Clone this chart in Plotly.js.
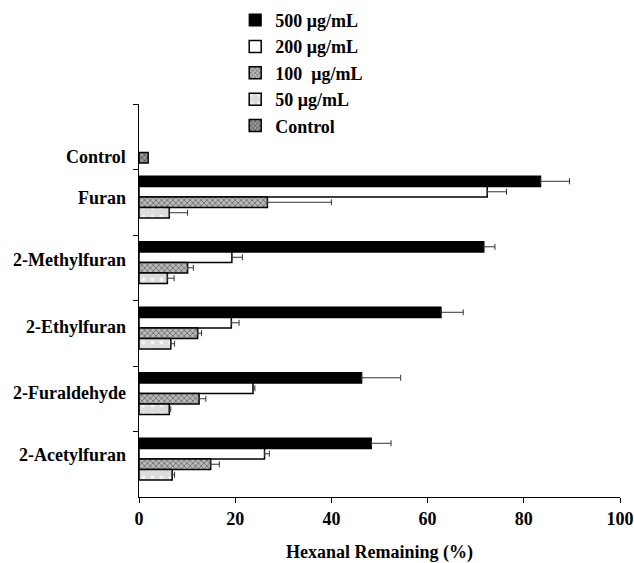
<!DOCTYPE html>
<html>
<head>
<meta charset="utf-8">
<script src="https://cdn.plot.ly/plotly-3.0.1.min.js"></script>
<style>html,body{margin:0;padding:0;background:#fff;}#chart{width:634px;height:563px;}</style>
</head>
<body>
<div id="chart"></div>
<script>
var categories = ["Control", "Furan", "2-Methylfuran", "2-Ethylfuran", "2-Furaldehyde", "2-Acetylfuran"];
var seriesNames = ["500 μg/mL", "200 μg/mL", "100\u00a0 μg/mL", "50 μg/mL", "Control"];

var v500 = [null, 83.5, 71.7, 62.8, 46.3, 48.3];
var e500 = [0, 6.0, 2.3, 4.6, 8.1, 4.1];
var v200 = [null, 72.4, 19.3, 19.2, 23.7, 26.1];
var e200 = [0, 4.0, 2.2, 1.6, 0.4, 1.0];
var v100 = [null, 26.7, 10.1, 12.2, 12.5, 14.9];
var e100 = [0, 13.3, 1.2, 0.8, 1.4, 1.8];
var v50 = [null, 6.3, 5.9, 6.6, 6.3, 6.9];
var e50 = [0, 3.8, 1.4, 0.8, 0.3, 0.5];
var vCtrl = [1.9, null, null, null, null, null];
var eCtrl = [0, 0, 0, 0, 0, 0];

var xTicks = [0, 20, 40, 60, 80, 100];

var values = [v500, v200, v100, v50, vCtrl];
var errs = [e500, e200, e100, e50, eCtrl];
var markers = [
  {color: "#000000", line: {color: "#000", width: 1.2}},
  {color: "#ffffff", line: {color: "#000", width: 1.5}},
  {color: "#b5b5b5", line: {color: "#000", width: 1.5}, pattern: {shape: "x", fgcolor: "#555", bgcolor: "#b8b8b8", size: 4, solidity: 0.3}},
  {color: "#e2e2e2", line: {color: "#000", width: 1.5}, pattern: {shape: ".", fgcolor: "#f4f4f4", bgcolor: "#dcdcdc", size: 9, solidity: 0.15}},
  {color: "#8a8a8a", line: {color: "#000", width: 1.5}, pattern: {shape: "x", fgcolor: "#444", bgcolor: "#9a9a9a", size: 4, solidity: 0.35}}
];

var traces = seriesNames.map(function(n, i) {
  return {
    type: "bar",
    orientation: "h",
    name: n,
    legendgroup: "g" + i,
    y: categories,
    x: values[i],
    marker: markers[i],
    error_x: {type: "data", symmetric: false, array: errs[i], arrayminus: errs[i].map(function(){return 0;}), color: "#333", thickness: 1, width: 3, visible: i < 4}
  };
});

var fam = "Liberation Serif, Times New Roman, serif";
var labelShift = [-20, 4, 8, 6, 6, 9];
var annotations = categories.map(function(c, i) {
  return {
    xref: "paper", yref: "y", x: 0, y: c, xanchor: "right", yanchor: "middle",
    xshift: -11, yshift: labelShift[i], showarrow: false,
    text: "<b>" + c + "</b>", font: {family: fam, size: 18, color: "#000"}
  };
});

var layout = {
  width: 634, height: 563,
  margin: {l: 139, r: 14, t: 104, b: 66, autoexpand: false},
  paper_bgcolor: "#fff", plot_bgcolor: "#fff",
  barmode: "group", bargap: 0.2, bargroupgap: 0,
  font: {family: fam, size: 18, color: "#000"},
  showlegend: true,
  annotations: annotations,
  legend: {
    x: 0.2, xanchor: "left", y: 1.26, yanchor: "top",
    traceorder: "grouped", tracegroupgap: 0,
    font: {family: fam, size: 18, color: "#000", weight: "bold"},
    bgcolor: "rgba(0,0,0,0)"
  },
  xaxis: {
    range: [0, 100], tickvals: xTicks, ticktext: xTicks.map(function(t){return "<b>" + t + "</b>";}),
    showgrid: false, zeroline: false, showline: true, linecolor: "#000", linewidth: 1,
    ticks: "outside", ticklen: 5, tickcolor: "#000",
    tickfont: {family: fam, size: 18, color: "#000"},
    title: {text: "<b>Hexanal Remaining (%)</b>", font: {family: fam, size: 18, color: "#000"}, standoff: 18}
  },
  yaxis: {
    type: "category", categoryorder: "array", categoryarray: categories,
    autorange: "reversed", showticklabels: false,
    showgrid: false, zeroline: false, showline: true, linecolor: "#000", linewidth: 1,
    ticks: "outside", ticklen: 5, tickcolor: "#000", tickson: "boundaries"
  }
};

Plotly.newPlot("chart", traces, layout, {displayModeBar: false, staticPlot: true});
</script>
</body>
</html>
